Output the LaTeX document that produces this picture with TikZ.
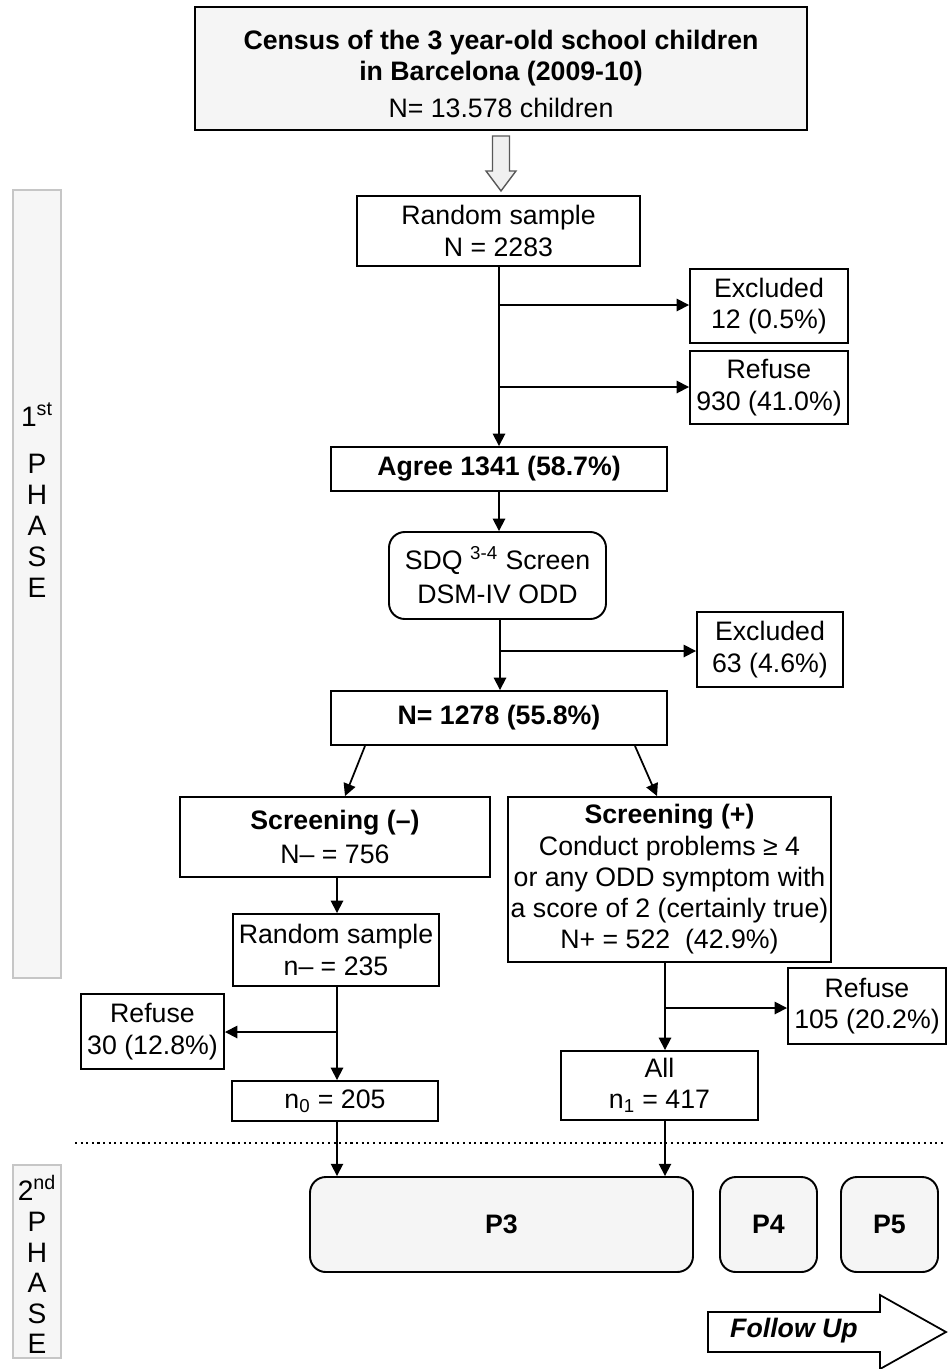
\documentclass[tikz,border=0pt]{standalone}
\usepackage{fontspec}
\setmainfont{Liberation Sans}
\usetikzlibrary{positioning,arrows.meta,calc}

\begin{document}
\begin{tikzpicture}[x=0.02cm,y=-0.02cm,
  lb/.style={font=\fontsize{15.2}{17.8}\selectfont},
  ph/.style={font=\fontsize{16}{18}\selectfont},
  sz/.style 2 args={minimum width=#1*0.02cm,minimum height=#2*0.02cm},
  box/.style={draw,lb,line width=1.1pt,fill=white,align=center,inner sep=0pt},
  rbox/.style={box,rounded corners=9pt},
  phase/.style={draw=gray!45,fill=gray!7,line width=1pt,inner sep=0pt},
  arr/.style={-{Triangle[length=7pt,width=7pt]},line width=1pt}]
\useasboundingbox (0,0) rectangle (952,1369);
\node[phase,sz={48}{788}] (phaseA) at (37,584) {};
\node[phase,sz={48}{193}] (phaseB) at (37,1261.5) {};
\node[ph] (ordA) at (37,415) {1\textsuperscript{st}};
\node[ph] (ordB) at (37,1188) {2\textsuperscript{nd}};
\foreach \ch [count=\i from 0] in {P,H,A,S,E}{
  \node[ph] (ltA\i) at (37,{464+31*\i}) {\ch};
  \node[ph] (ltB\i) at (37,{1222+30.5*\i}) {\ch};
}
\node[box,sz={612}{123},fill=gray!8] (census) at (501,68.5) {\rule{0pt}{17pt}\textbf{Census of the 3 year-old school children}\\\textbf{in Barcelona (2009-10)}\\[3pt]N= 13.578 children};
\node[box,sz={283}{70}] (randA) at (498.5,231) {Random sample\\N = 2283};
\node[box,sz={158}{74}] (exclA) at (769,306) {Excluded\\12 (0.5\%)};
\node[box,sz={158}{73}] (refA) at (769,387.5) {Refuse\\930 (41.0\%)};
\node[box,sz={336}{44}] (agree) at (499,469) {\textbf{Agree 1341 (58.7\%)}};
\node[rbox,sz={217}{87}] (sdq) at (497.5,575.5) {SDQ \textsuperscript{3-4} Screen\\[2pt]DSM-IV ODD};
\node[box,sz={146}{75}] (exclB) at (770,649.5) {Excluded\\63 (4.6\%)};
\node[box,sz={336}{54}] (total) at (499,718) {\textbf{N= 1278 (55.8\%)}};
\node[box,sz={310}{80}] (scrNeg) at (335,837) {\textbf{Screening (–)}\\[2pt]N– = 756};
\node[box,sz={323}{165}] (scrPos) at (669.5,879.5) {\textbf{Screening (+)}\\Conduct problems ≥ 4\\or any ODD symptom with\\a score of 2 (certainly true)\\N+ = 522\ \ (42.9\%)};
\node[box,sz={206}{72}] (randB) at (336,950) {Random sample\\n– = 235};
\node[box,sz={143}{75}] (refB) at (152.5,1031.5) {Refuse\\30 (12.8\%)};
\node[box,sz={206}{40}] (nzero) at (335,1101) {n\textsubscript{0} = 205};
\node[box,sz={158}{76}] (refC) at (867,1006) {Refuse\\105 (20.2\%)};
\node[box,sz={197}{69}] (all) at (659.5,1085.5) {All\\n\textsubscript{1} = 417};
\node[rbox,sz={383}{95},fill=gray!8] (pThree) at (501.5,1224.5) {\textbf{P3}};
\node[rbox,sz={97}{95},fill=gray!8] (pFour) at (768.5,1224.5) {\textbf{P4}};
\node[rbox,sz={97}{95},fill=gray!8] (pFive) at (889.5,1224.5) {\textbf{P5}};
\draw[fill=gray!12,draw=gray!70!black,line width=0.8pt] ($(census.south)+(-8.5,5)$) -- ++(0,35) -- ++(-6.5,0) -- ($(census.south)+(0,60)$) -- ($(census.south)+(15,40)$) -- ++(-6.5,0) -- ++(0,-35) -- cycle;
\coordinate (jA) at (499,305);
\coordinate (jB) at (499,387);
\coordinate (jC) at (500,651);
\coordinate (jD) at (337,1032);
\coordinate (jE) at (665,1008);
\draw[arr] (randA.south -| jA) -- (agree.north -| jA);
\draw[arr] (jA) -- (jA -| exclA.west);
\draw[arr] (jB) -- (jB -| refA.west);
\draw[arr] (agree.south) -- (agree.south |- sdq.north);
\draw[arr] (sdq.south -| jC) -- (total.north -| jC);
\draw[arr] (jC) -- (jC -| exclB.west);
\draw[arr] (total.south -| 365,0) -- (scrNeg.north -| 345,0);
\draw[arr] (total.south -| 635,0) -- (scrPos.north -| 657,0);
\draw[arr] (scrNeg.south -| jD) -- (randB.north -| jD);
\draw[arr] (randB.south -| jD) -- (nzero.north -| jD);
\draw[arr] (jD) -- (jD -| refB.east);
\draw[arr] (scrPos.south -| jE) -- (all.north -| jE);
\draw[arr] (jE) -- (jE -| refC.west);
\draw[arr] (nzero.south -| jD) -- (pThree.north -| jD);
\draw[arr] (all.south -| jE) -- (pThree.north -| jE);
\draw[dotted,line width=1.2pt] (75,1143) -- (945,1143);
\draw[line width=1pt,fill=white] (708,1312) -- (880,1312) -- (880,1295) -- (946,1332) -- (880,1369) -- (880,1352) -- (708,1352) -- cycle;
\node[lb] (follow) at (794,1331) {\bfseries\itshape Follow Up};
\end{tikzpicture}
\end{document}
